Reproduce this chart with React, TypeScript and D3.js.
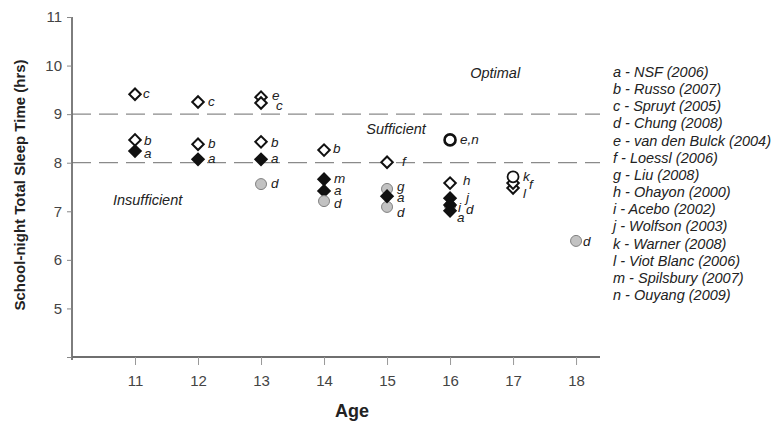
import * as d3 from "d3";
import { useEffect, useRef } from "react";

// points, listed in drawing order
const ages = [11, 11, 11, 12, 12, 12, 13, 13, 13, 13, 13, 14, 14, 14, 14, 15, 15, 15, 15, 16, 16, 16, 16, 16, 16, 17, 17, 17, 18];
const hours = [9.41, 8.47, 8.24, 9.25, 8.38, 8.07, 9.35, 9.23, 8.43, 8.07, 7.56, 8.26, 7.66, 7.42, 7.21, 8.01, 7.46, 7.09, 7.31, 8.47, 7.58, 7.11, 7.27, 7.13, 7.01, 7.48, 7.58, 7.71, 6.39];
const studies = ["c", "b", "a", "c", "b", "a", "e", "c", "b", "a", "d", "b", "m", "a", "d", "f", "g", "d", "a", "e,n", "h", "d", "j", "i", "a", "l", "f", "k", "d"];
const markers = ["open", "open", "filled", "open", "open", "filled", "open", "open", "open", "filled", "gray", "open", "filled", "filled", "gray", "open", "gray", "gray", "filled", "ring", "open", "gray", "filled", "filled", "filled", "open", "open", "thinring", "gray"];

// label placement next to each point (px)
const labelDx = [8, 9, 9, 10, 10, 10, 11, 15, 10, 10, 10, 9, 10, 10, 10, 15, 10, 10, 10, 10, 13, 16, 16, 8, 7, 10, 16, 10, 7];
const labelDy = [4, 5, 7, 4, 4, 4, 3, 7, 5, 4, 4, 3, 4, 4, 7, 4, 2, 10, 6, 4, 2, 8, 4, 7, 11, 10, 6, 4, 5];

const legendItems = [
  "a - NSF (2006)", "b - Russo (2007)", "c - Spruyt (2005)", "d - Chung (2008)",
  "e - van den Bulck (2004)", "f - Loessl (2006)", "g - Liu (2008)", "h - Ohayon (2000)",
  "i - Acebo (2002)", "j - Wolfson (2003)", "k - Warner (2008)", "l - Viot Blanc (2006)",
  "m - Spilsbury (2007)", "n - Ouyang (2009)",
];

const xTicks = [11, 12, 13, 14, 15, 16, 17, 18];
const yTicks = [5, 6, 7, 8, 9, 10, 11];
const thresholds = [8, 9];
const zoneNames = ["Optimal", "Sufficient", "Insufficient"];
const zoneAge = [16.32, 14.67, 10.65];
const zoneHours = [9.74, 8.59, 7.13];

export default function App() {
  const ref = useRef<SVGSVGElement>(null);

  useEffect(() => {
    const svg = d3.select(ref.current);
    svg.selectAll("*").remove();

    const x = d3.scaleLinear().domain([10, 18.38]).range([72, 600]);
    const y = d3.scaleLinear().domain([4, 11]).range([357, 17]);
    const font = "'Liberation Sans', Arial, sans-serif";

    //dashed threshold lines
    svg.selectAll("line.thr").data(thresholds).enter().append("line")
      .attr("x1", x(10)).attr("x2", x(18.38))
      .attr("y1", (d) => y(d)).attr("y2", (d) => y(d))
      .attr("stroke", "#8a8a8a").attr("stroke-width", 1.3)
      .attr("stroke-dasharray", "19,8");

    //y axis
    const yAxis = svg.append("g").attr("transform", `translate(${x(10)},0)`)
      .call(d3.axisLeft(y).tickValues([4, ...yTicks]).tickSize(5).tickFormat((d) => (d === 4 ? "" : String(d))));
    yAxis.select(".domain").attr("stroke", "#6f6f6f").attr("stroke-width", 1.8).attr("d", `M0,${y(11)}V${y(4) + 3}`);
    yAxis.selectAll(".tick line").attr("stroke", "#888");
    yAxis.selectAll(".tick text").attr("font-family", font).attr("font-size", 15).attr("fill", "#444").attr("x", -10);

    //x axis
    const xAxis = svg.append("g").attr("transform", `translate(0,${y(4)})`)
      .call(d3.axisBottom(x).tickValues(xTicks).tickSize(8).tickFormat(d3.format("d")));
    xAxis.select(".domain").attr("stroke", "#6f6f6f").attr("stroke-width", 1.8).attr("d", `M${x(10)},0H${x(18.38)}`);
    xAxis.selectAll(".tick line").attr("stroke", "#999");
    xAxis.selectAll(".tick text").attr("font-family", font).attr("font-size", 15).attr("fill", "#444").attr("y", 18);

    //axis titles
    svg.append("text").attr("transform", `translate(25,185) rotate(-90)`)
      .attr("text-anchor", "middle").attr("font-family", font).attr("font-weight", "bold")
      .attr("font-size", 15).attr("fill", "#222").text("School-night Total Sleep Time (hrs)");
    svg.append("text").attr("x", 352).attr("y", 417).attr("text-anchor", "middle")
      .attr("font-family", font).attr("font-weight", "bold").attr("font-size", 18).attr("fill", "#222").text("Age");

    //zone labels
    svg.selectAll("text.zone").data(zoneNames).enter().append("text")
      .attr("x", (d, i) => x(zoneAge[i])).attr("y", (d, i) => y(zoneHours[i]))
      .attr("font-family", font).attr("font-style", "italic").attr("font-size", 14.5).attr("fill", "#222")
      .text((d) => d);

    //points
    const idx = d3.range(ages.length);
    const diamond = d3.symbol().type(d3.symbolSquare).size(66);
    const circle = d3.symbol().type(d3.symbolCircle).size(95);
    const isCircle = (m: string) => m === "gray" || m === "ring" || m === "thinring";
    svg.selectAll("path.pt").data(idx).enter().append("path")
      .attr("d", (i) => (isCircle(markers[i]) ? circle() : diamond()))
      .attr("transform", (i) => `translate(${x(ages[i])},${y(hours[i])})` + (isCircle(markers[i]) ? "" : " rotate(45)"))
      .attr("fill", (i) => (markers[i] === "filled" ? "#111" : markers[i] === "gray" ? "#c2c2c2" : "#fff"))
      .attr("stroke", (i) => (markers[i] === "gray" ? "#808080" : "#111"))
      .attr("stroke-width", (i) => (markers[i] === "gray" ? 1 : markers[i] === "ring" ? 2.6 : markers[i] === "thinring" ? 1.8 : 2));

    //point labels
    svg.selectAll("text.lbl").data(idx).enter().append("text")
      .attr("x", (i) => x(ages[i]) + labelDx[i]).attr("y", (i) => y(hours[i]) + labelDy[i])
      .attr("font-family", font).attr("font-style", "italic").attr("font-size", 13.5).attr("fill", "#222")
      .text((i) => studies[i]);

    //legend
    svg.selectAll("text.leg").data(legendItems).enter().append("text")
      .attr("x", 613).attr("y", (d, i) => 77 + i * 17.15)
      .attr("font-family", font).attr("font-style", "italic").attr("font-size", 14.5).attr("fill", "#222")
      .text((d) => d);
  }, []);

  return (
    <svg ref={ref} width={771} height={423} style={{ position: "absolute", left: 0, top: 0, background: "#fff" }}></svg>
  );
}
